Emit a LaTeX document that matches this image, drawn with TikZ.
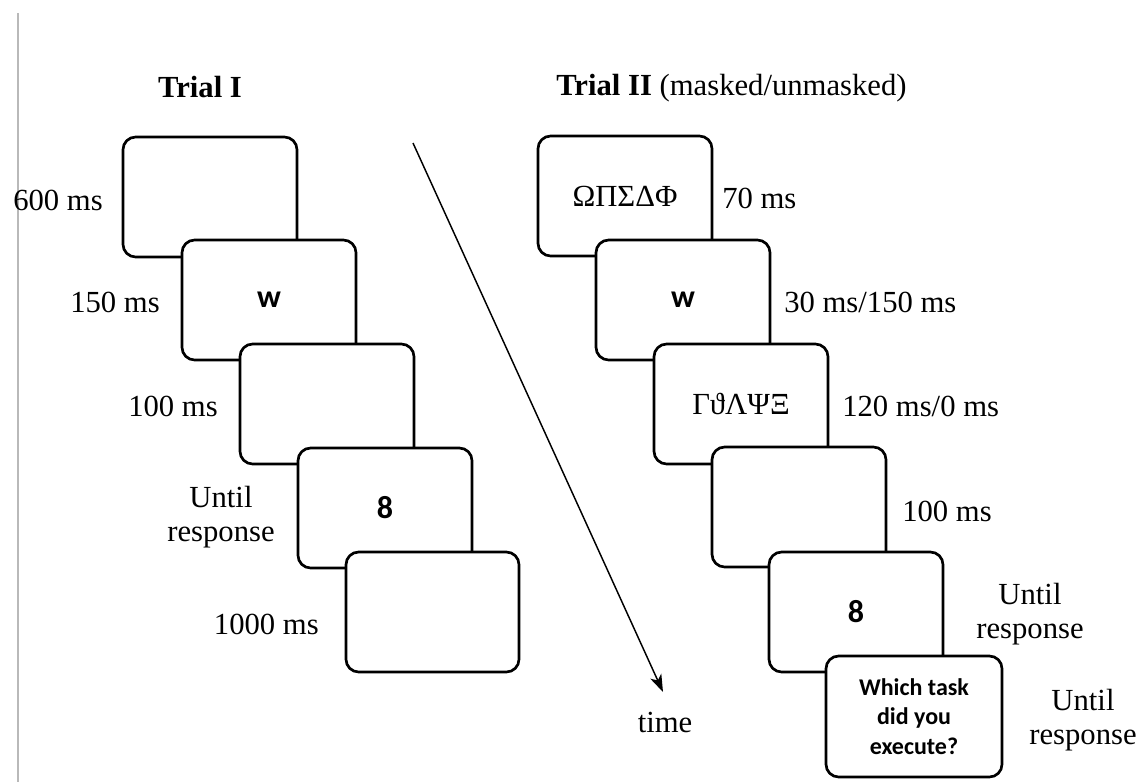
\documentclass[tikz,border=0pt]{standalone}
\usepackage{fontspec}
\setmainfont{Liberation Serif}
\newfontfamily\calib{Carlito}
\usetikzlibrary{arrows.meta}
\begin{document}
\begin{tikzpicture}[x=0.75pt,y=-0.75pt,
  screen/.style={draw=black, line width=2pt, fill=white, rounded corners=9.5pt,
    minimum width=130.5pt, minimum height=90pt, anchor=north west,
    inner sep=0pt, outer sep=0pt, font=\calib\bfseries\fontsize{24}{28}\selectfont},
  greek/.style={font=\rmfamily\fontsize{23}{26}\selectfont},
  question/.style={align=center, font=\calib\bfseries\fontsize{18}{22}\selectfont},
  lbl/.style={font=\fontsize{23}{25}\selectfont, inner sep=0pt, align=center},
  title/.style={font=\fontsize{23}{25}\selectfont, inner sep=0pt},
  timearrow/.style={line width=1.1pt, -{Stealth[length=13pt,width=9pt,inset=3.5pt]}}
]
\useasboundingbox (0,0) rectangle (1142,782);
% left gray rule
\coordinate (g1) at (18,13);
\coordinate (g2) at (18,782);
\draw[gray!55, line width=0.8pt] (g1) -- (g2);

% titles
\node[title] (t1) at (200,87) {\textbf{Trial I}};
\node[title, anchor=west] (t2) at (556,88) {\textbf{Trial II} (masked/unmasked)};

% Trial I screens
\node[screen] (b1) at (123,137) {};
\node[screen] (b2) at (182,240) {w};
\node[screen] (b3) at (240,344) {};
\node[screen] (b4) at (298,448) {8};
\node[screen, minimum width=129.75pt] (b5) at (346,552) {};

% Trial I labels
\node[lbl, anchor=east] (l1) at (103,200) {600 ms};
\node[lbl, anchor=east] (l2) at (160,302) {150 ms};
\node[lbl, anchor=east] (l3) at (218,406) {100 ms};
\node[lbl] (l4) at (221,517) {Until\\response};
\node[lbl, anchor=east] (l5) at (319,624) {1000 ms};

% Trial II screens
\node[screen, greek] (r1) at (538,136) {ΩΠΣΔΦ};
\node[screen] (r2) at (596,240) {w};
\node[screen, greek] (r3) at (654,344) {ΓϑΛΨΞ};
\node[screen] (r4) at (712,447) {};
\node[screen] (r5) at (769,552) {8};
\node[screen, question, minimum width=132pt, minimum height=90.75pt] (r6) at (826,656)
  {Which task\\did you\\execute?};

% Trial II labels
\node[lbl, anchor=west] (m1) at (722,198) {70 ms};
\node[lbl, anchor=west] (m2) at (784,302) {30 ms/150 ms};
\node[lbl, anchor=west] (m3) at (842,406) {120 ms/0 ms};
\node[lbl, anchor=west] (m4) at (902,511) {100 ms};
\node[lbl] (m5) at (1030,614) {Until\\response};
\node[lbl] (m6) at (1083,720) {Until\\response};

% time arrow
\coordinate (ts) at (413,143);
\coordinate (te) at (663,692);
\draw[timearrow] (ts) -- (te);
\node[lbl] (time) at (665,722) {time};
\end{tikzpicture}
\end{document}
